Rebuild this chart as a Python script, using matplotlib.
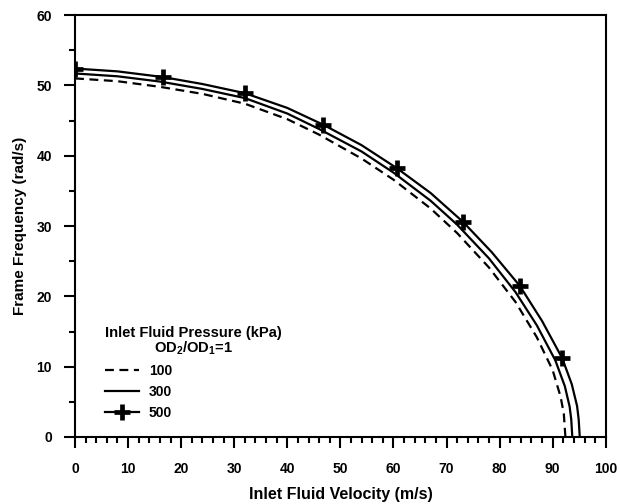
"""
Frame natural frequency against inlet fluid velocity for three inlet
pressures (OD2/OD1 = 1). Values are tabulated below and drawn as-is.
"""

import matplotlib

matplotlib.use("Agg")
import matplotlib.pyplot as plt  # noqa: E402
from matplotlib.ticker import MultipleLocator  # noqa: E402

plt.rcParams["font.family"] = ["Liberation Sans", "DejaVu Sans"]
plt.rcParams["font.weight"] = "bold"
plt.rcParams["mathtext.fontset"] = "custom"
plt.rcParams["mathtext.rm"] = "Liberation Sans:bold"
plt.rcParams["mathtext.bf"] = "Liberation Sans:bold"
plt.rcParams["mathtext.default"] = "bf"

# inlet pressure 100 kPa
v_100 = [0, 8, 16, 24, 32, 40, 46, 54, 60, 67, 72, 78, 83, 87, 90, 91.5, 92.1, 92.4]
f_100 = [51.0, 50.6, 49.8, 48.8, 47.4, 45.2, 43.0, 39.6, 36.6, 32.5, 29.0, 24.1,
         19.2, 14.2, 9.5, 5.7, 3.3, 0.0]

# inlet pressure 300 kPa
v_300 = [0, 8, 16, 24, 32, 40, 46, 54, 60, 67, 72, 78, 83, 87, 90.5, 92.3, 93.2,
         93.5, 93.7]
f_300 = [51.7, 51.3, 50.55, 49.5, 48.2, 46.0, 43.8, 40.6, 37.6, 33.6, 30.2, 25.4,
         20.6, 15.9, 10.9, 7.2, 4.3, 2.5, 0.0]

# inlet pressure 500 kPa (marked points are the computed ones)
v_500 = [0, 8, 16.5, 24, 32, 40, 46.8, 54, 60.7, 67, 73.1, 78.5, 83.8, 88, 91.8,
         93.6, 94.6, 94.9, 95.1]
f_500 = [52.4, 52.0, 51.2, 50.2, 48.9, 46.8, 44.4, 41.5, 38.2, 34.7, 30.6, 26.3,
         21.5, 16.5, 11.2, 7.5, 4.4, 2.5, 0.0]
marked_500 = [0, 2, 4, 6, 8, 10, 12, 14]

fig = plt.figure(figsize=(6.2, 5.04), dpi=100)
ax = fig.add_axes([0.121, 0.133, 0.856, 0.837])

ax.plot(v_100, f_100, color="black", lw=1.6, dashes=(4, 2.5), label="100")
ax.plot(v_300, f_300, color="black", lw=1.6, label="300")
ax.plot(v_500, f_500, color="black", lw=1.6, marker="+", ms=12, mew=3.4,
        markevery=marked_500, label="500")

ax.set_xlim(0, 100)
ax.set_ylim(0, 60)
ax.xaxis.set_major_locator(MultipleLocator(10))
ax.xaxis.set_minor_locator(MultipleLocator(2))
ax.yaxis.set_major_locator(MultipleLocator(10))
ax.yaxis.set_minor_locator(MultipleLocator(5))
ax.tick_params(which="both", direction="out", top=False, right=False,
               width=1.5, labelsize=10)
ax.tick_params(axis="x", which="both", pad=10)
ax.tick_params(axis="y", which="both", pad=8.5)
ax.tick_params(which="major", length=8)
ax.tick_params(which="minor", length=4)
for s in ax.spines.values():
    s.set_linewidth(1.5)

ax.set_xlabel("Inlet Fluid Velocity (m/s)", fontsize=11.5, fontweight="bold",
              labelpad=8)
ax.set_ylabel("Frame Frequency (rad/s)", fontsize=11, fontweight="bold",
              labelpad=7)

leg = ax.legend(title="Inlet Fluid Pressure (kPa)\nOD$_{2}$/OD$_{1}$=1",
                loc="lower left", bbox_to_anchor=(0.043, 0.024), frameon=False,
                fontsize=10, title_fontsize=10.6, handlelength=2.45,
                labelspacing=0.5, borderpad=0, handletextpad=0.72)
leg._legend_box.align = "left"
leg.get_title().set_fontweight("bold")
leg.get_title().set_multialignment("center")
leg.get_title().set_linespacing(1.0)

fig.savefig("out.png", dpi=100)
